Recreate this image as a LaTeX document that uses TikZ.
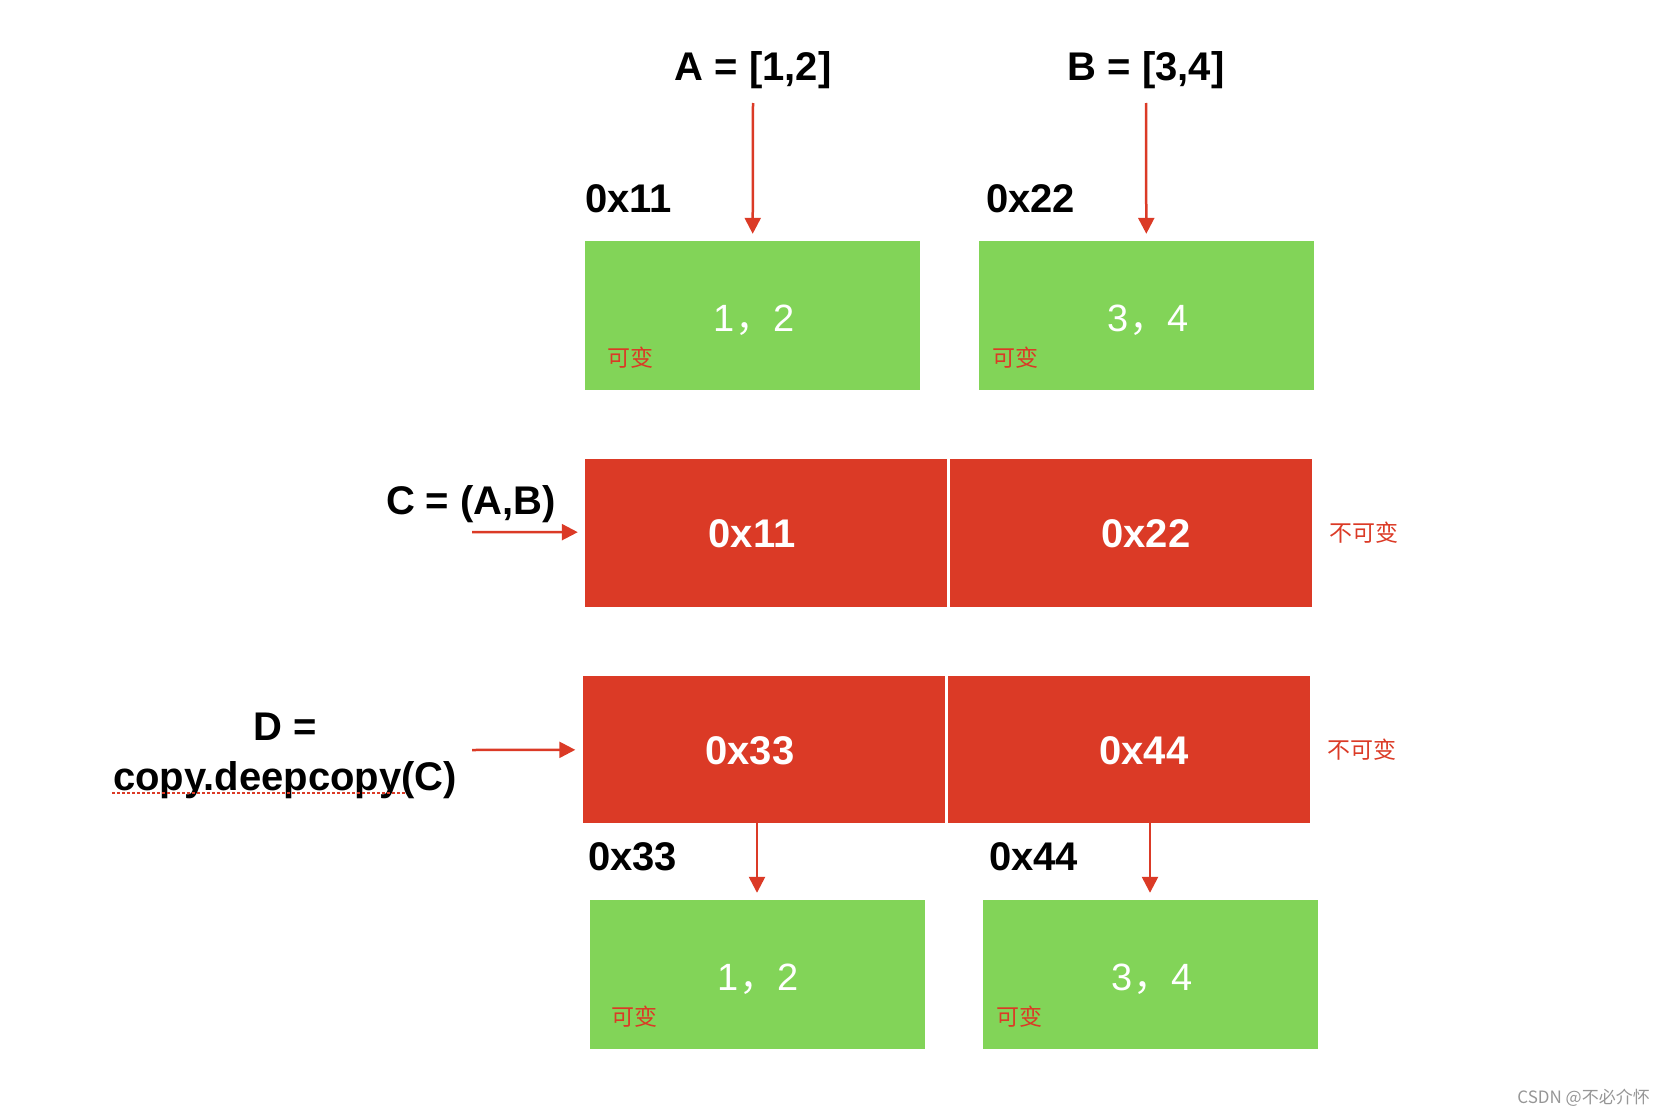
\documentclass[tikz,border=0pt]{standalone}
\usepackage{fontspec}
\setmainfont{Liberation Sans}
\newfontfamily\cjk{Noto Sans CJK SC}
\usetikzlibrary{arrows.meta, positioning}
\definecolor{boxgreen}{RGB}{130,212,88}
\definecolor{boxred}{RGB}{219,58,38}
\definecolor{markgray}{RGB}{150,150,150}

\tikzset{
  mutbox/.style={fill=boxgreen, minimum width=335pt, minimum height=149pt, inner sep=0pt},
  refbox/.style={fill=boxred, minimum width=362pt, minimum height=148pt, inner sep=0pt},
  valtext/.style={inner sep=0pt, text=white, font=\fontsize{38}{40}\selectfont},
  reftext/.style={inner sep=0pt, text=white, font=\fontsize{40}{44}\selectfont\bfseries},
  lbl/.style={inner sep=0pt, font=\fontsize{40}{50}\selectfont\bfseries},
  tag/.style={inner sep=0pt, anchor=west, text=boxred, font=\fontsize{23}{26}\selectfont\cjk},
  ptr/.style={-{Triangle[length=16pt,width=16pt]}, draw=boxred, line width=2.5pt, shorten >=7pt},
}

\begin{document}
\begin{tikzpicture}[x=1pt, y=-1pt]
  \useasboundingbox (0,0) rectangle (1666,1116);

  % Listen A und B
  \node[lbl] (lblA) at (753,70) {A = [1,2]};
  \node[lbl] (lblB) at (1146,70) {B = [3,4]};
  \node[lbl, anchor=west] (addrA) at (585,199) {0x11};
  \node[lbl, anchor=west] (addrB) at (986,199) {0x22};
  \node[mutbox] (gA) at (752.5,315.5) {};
  \node[mutbox] (gB) at (1146.5,315.5) {};
  \node[valtext] (vA) at (754,320) {1{\cjk ，}2};
  \node[valtext] (vB) at (1148,320) {3{\cjk ，}4};
  \node[tag] (tA) at (607,358) {可变};
  \node[tag] (tB) at (992,358) {可变};
  \coordinate (aTail) at (753,103);
  \coordinate (bTail) at (1146,103);
  \draw[ptr] (aTail) -- (gA);
  \draw[ptr] (bTail) -- (gB);

  % Tupel C
  \node[refbox] (cA) at (766,532.5) {};
  \node[refbox] (cB) at (1131,532.5) {};
  \node[reftext] (cTxtA) at (752,534) {0x11};
  \node[reftext] (cTxtB) at (1146,534) {0x22};
  \node[tag] (cTag) at (1329,533) {不可变};
  \node[lbl] (lblC) at (471,504) {C = (A,B)};
  \coordinate (cTail) at (472,532);
  \draw[ptr] (cTail) -- (cA);

  % Tupel D (deepcopy)
  \node[refbox, minimum height=147pt] (dA) at (763.5,749.5) {};
  \node[refbox, minimum height=147pt] (dB) at (1128.5,749.5) {};
  \node[reftext] (dTxtA) at (750,751) {0x33};
  \node[reftext] (dTxtB) at (1144,751) {0x44};
  \node[tag] (dTag) at (1327,750) {不可变};
  \node[lbl, align=center, anchor=north] (lblD) at (285,713) {D =\\copy.deepcopy(C)};
  \draw[boxred, line width=1.5pt, dash pattern=on 3pt off 2pt] (112,793) -- (405,793);
  \coordinate (dTail) at (472,750);
  \draw[ptr] (dTail) -- (dA);

  % Kopien der Listen
  \node[lbl, anchor=west] (addrC) at (588,857) {0x33};
  \node[lbl, anchor=west] (addrD) at (989,857) {0x44};
  \node[mutbox] (hA) at (757,974.5) {};
  \node[mutbox] (hB) at (1150,974.5) {};
  \node[valtext] (wA) at (758,979) {1{\cjk ，}2};
  \node[valtext] (wB) at (1152,979) {3{\cjk ，}4};
  \node[tag] (tC) at (611,1017) {可变};
  \node[tag] (tD) at (996,1017) {可变};
  \draw[ptr] (dA.south -| hA) -- (hA);
  \draw[ptr] (dB.south -| hB) -- (hB);

  % Wasserzeichen
  \node[inner sep=0pt, anchor=east, text=markgray, font=\fontsize{17}{18}\selectfont\cjk] (mark) at (1650,1098) {CSDN @不必介怀};
\end{tikzpicture}
\end{document}
